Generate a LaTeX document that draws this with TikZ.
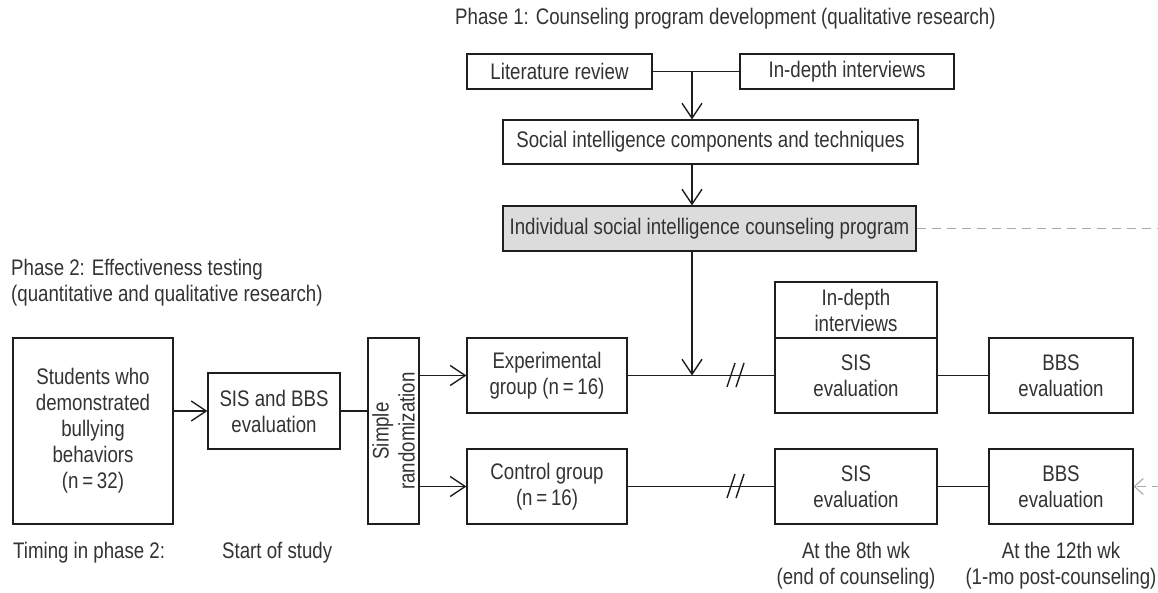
\documentclass[tikz,border=0pt]{standalone}
\usepackage{fontspec}
\setmainfont[FakeStretch=0.83]{Liberation Sans}
\usetikzlibrary{arrows.meta}
\definecolor{txt}{HTML}{333333}
\definecolor{ln}{HTML}{1E1E1E}
\definecolor{grayfill}{HTML}{DCDCDC}
\definecolor{dashgray}{HTML}{AAAAAA}
\begin{document}
\begin{tikzpicture}[x=1pt,y=-1pt,
  box/.style={draw=ln, line width=1.1pt, fill=white, inner sep=0pt, align=center,
    text=txt, font=\fontsize{22.5}{26}\selectfont},
  lbl/.style={inner sep=0pt, text=txt, font=\fontsize{22.5}{26}\selectfont},
  conn/.style={line width=1.4pt, ln},
  arr/.style={conn, -{Straight Barb[length=15pt,width=20pt,line width=1.4pt]}},
  darr/.style={line width=1.1pt, dashgray, dash pattern=on 9pt off 6pt,
    -{Straight Barb[length=9pt,width=16pt,line width=1.1pt]}}
]
\useasboundingbox (0,0) rectangle (1158,593);
\clip (0,0) rectangle (1158,593);

% Phase 1
\node[lbl, anchor=west] (t1) at (455,19) {Phase 1: Counseling program development (qualitative research)};
\node[box, minimum width=185pt, minimum height=35pt] (lit) at (559.5,71.5) {Literature review};
\node[box, minimum width=214pt, minimum height=35pt] (ind) at (847,71.5) {In-depth interviews};
\node[box, minimum width=415pt, minimum height=44pt] (soc) at (710.5,142) {Social intelligence components and techniques};
\node[box, fill=grayfill, minimum width=413pt, minimum height=45pt] (prog) at (709.5,228.5) {Individual social intelligence counseling program};

% Phase 2
\node[lbl, anchor=north west, align=left] (t2) at (11,259) {Phase 2: Effectiveness testing\\(quantitative and qualitative research)};
\node[box, minimum width=160pt, minimum height=186pt] (stu) at (93,431) {Students who\\demonstrated\\bullying\\behaviors\\(n\,=\,32)};
\node[box, minimum width=132pt, minimum height=76pt] (sb) at (274,411) {SIS and BBS\\evaluation};
\node[box, minimum width=51pt, minimum height=186pt] (rnd) at (393.5,431) {};
\node[lbl, rotate=90, align=center] (rndt) at (rnd.center) {Simple\\randomization};
\node[box, minimum width=160pt, minimum height=75pt] (exp) at (547,375.5) {Experimental\\group (n\,=\,16)};
\node[box, minimum width=160pt, minimum height=75pt] (ctl) at (547,486.5) {Control group\\(n\,=\,16)};
\node[box, minimum width=162pt, minimum height=56pt] (int) at (856,310) {In-depth\\interviews};
\node[box, minimum width=162pt, minimum height=75pt] (sis1) at (856,375.5) {SIS\\evaluation};
\node[box, minimum width=144pt, minimum height=75pt] (bbs1) at (1061,375.5) {BBS\\evaluation};
\node[box, minimum width=162pt, minimum height=75pt] (sis2) at (856,486.5) {SIS\\evaluation};
\node[box, minimum width=144pt, minimum height=75pt] (bbs2) at (1061,486.5) {BBS\\evaluation};

% timing
\node[lbl, anchor=west] (tm) at (13,553) {Timing in phase 2:};
\node[lbl, anchor=west] (st) at (222,553) {Start of study};
\node[lbl, align=center] (w8) at (856,566) {At the 8th wk\\(end of counseling)};
\node[lbl, align=center] (w12) at (1061,566) {At the 12th wk\\(1-mo post-counseling)};

% connectors phase 1
\coordinate (j1) at (692,71.5);
\draw[conn] (lit.east) -- (ind.west);
\draw[arr] (j1) -- (j1 |- soc.north);
\draw[arr] (j1 |- soc.south) -- (j1 |- prog.north);
\coordinate (j2) at (692,375.5);
\draw[arr] (j1 |- prog.south) -- (j2);

% connectors phase 2
\draw[arr] (stu.east |- sb.west) -- (sb.west);
\draw[conn] (sb.east) -- (sb.east -| rnd.west);
\draw[arr] (rnd.east |- exp.west) -- (exp.west);
\draw[arr] (rnd.east |- ctl.west) -- (ctl.west);
\draw[conn] (exp.east) -- (sis1.west);
\draw[conn] (ctl.east) -- (sis2.west);
\draw[conn] (sis1.east) -- (bbs1.west);
\draw[conn] (sis2.east) -- (bbs2.west);

% break marks
\draw[conn] (727,387) -- (735,363);
\draw[conn] (736,387) -- (744,363);
\draw[conn] (727,498) -- (735,474);
\draw[conn] (736,498) -- (744,474);

% dashed link
\coordinate (rt) at (1180,228.5);
\draw[darr] (prog.east) -- (rt) |- (bbs2.east);
\end{tikzpicture}
\end{document}
